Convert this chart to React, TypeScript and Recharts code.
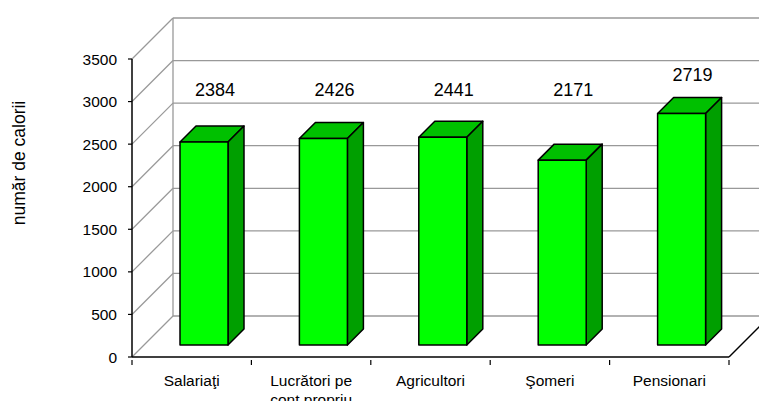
import React from 'react';
import { BarChart, Bar, XAxis, YAxis, CartesianGrid, LabelList, Label, Text } from 'recharts';

const CATEGORIES = ['Salariaţi', 'Lucrători pe cont propriu', 'Agricultori', 'Şomeri', 'Pensionari'];
const CALORII = [2384, 2426, 2441, 2171, 2719];
const Y_TICKS = [0, 500, 1000, 1500, 2000, 2500, 3000, 3500];
const Y_TITLE = 'număr de calorii';

const data = CATEGORIES.map((name, i) => ({ name, calorii: CALORII[i] }));

const FONT = '"Liberation Sans", Arial, sans-serif';
// 3d look: bars sit a bit inside the floor, wall sits at the back
const BAR_IN = 12;
const BAR_DEPTH = 16;
const WALL = 41;

function Bar3D(props: any) {
  const { x, y, width, height } = props;
  const fx = x + BAR_IN;
  const fy = y - BAR_IN;
  const d = BAR_DEPTH;
  return (
    <g stroke="#000" strokeWidth={1.5} strokeLinejoin="round">
      <polygon
        points={`${fx},${fy} ${fx + d},${fy - d} ${fx + width + d},${fy - d} ${fx + width},${fy}`}
        fill="#00c000"
      />
      <polygon
        points={`${fx + width},${fy} ${fx + width + d},${fy - d} ${fx + width + d},${fy + height - d} ${fx + width},${fy + height}`}
        fill="#009f00"
      />
      <rect x={fx} y={fy} width={width} height={height} fill="#00ff00" />
    </g>
  );
}

function ValueLabel(props: any) {
  const { x, y, width, height, value } = props;
  const bottom = y + height - BAR_IN;
  const ppu = height / value;
  // labels float near the 3000 line, higher bars push them up
  const level = Math.max(value + 450, 3000);
  return (
    <text
      x={x + BAR_IN + width / 2 + 11}
      y={bottom - level * ppu + 6}
      textAnchor="middle"
      fontSize={18}
      fontFamily={FONT}
      fill="#000"
    >
      {value}
    </text>
  );
}

function GridLine(props: any) {
  const { x1, y1, x2 } = props;
  return (
    <g stroke="#999" strokeWidth={1.3} fill="none">
      <line x1={x1} y1={y1} x2={x1 + WALL} y2={y1 - WALL} />
      <line x1={x1 + WALL} y1={y1 - WALL} x2={x2 + WALL + 40} y2={y1 - WALL} />
    </g>
  );
}

function WallEdge(props: any) {
  const { x1, y1, y2, index } = props;
  if (index === 0) {
    return <line x1={x1 + WALL} y1={y1 - WALL} x2={x1 + WALL} y2={y2 - WALL} stroke="#999" strokeWidth={1.3} />;
  }
  return <line x1={x1} y1={y2} x2={x1 + WALL} y2={y2 - WALL} stroke="#000" strokeWidth={1.5} />;
}

function CategoryTick(props: any) {
  const { x, y, payload, index } = props;
  const half = payload.offset || 59.7;
  return (
    <g>
      <line x1={x - half} y1={y - 5} x2={x - half} y2={y} stroke="#000" strokeWidth={1.2} />
      {index === CATEGORIES.length - 1 && (
        <line x1={x + half} y1={y - 5} x2={x + half} y2={y} stroke="#000" strokeWidth={1.2} />
      )}
      <Text
        x={x}
        y={y + 10}
        width={100}
        textAnchor="middle"
        verticalAnchor="start"
        lineHeight="1.2em"
        fontSize={15.5}
        fontFamily={FONT}
        fill="#000"
      >
        {payload.value}
      </Text>
    </g>
  );
}

export default function App() {
  return (
    <div style={{ position: 'absolute', left: 0, top: 0, background: '#fff' }}>
      <BarChart
        width={759}
        height={401}
        data={data}
        barSize={48}
        margin={{ top: 59, right: 30, bottom: 0, left: 0 }}
      >
        <CartesianGrid
          horizontal={GridLine}
          vertical={WallEdge}
          verticalCoordinatesGenerator={({ offset }: any) => [offset.left, offset.left + offset.width]}
        />
        <XAxis
          dataKey="name"
          height={44}
          interval={0}
          tickLine={false}
          axisLine={{ stroke: '#000', strokeWidth: 1.5 }}
          tick={<CategoryTick />}
        />
        <YAxis
          width={132}
          domain={[0, 3500]}
          ticks={Y_TICKS}
          interval={0}
          tickSize={4}
          tickMargin={11}
          axisLine={{ stroke: '#000', strokeWidth: 1.5 }}
          tickLine={{ stroke: '#000', strokeWidth: 1.2 }}
          tick={{ fontSize: 15.5, fontFamily: FONT, fill: '#000' }}
        >
          <Label
            content={() => (
              <text
                x={25}
                y={163}
                transform="rotate(-90, 25, 163)"
                textAnchor="middle"
                fontSize={17.5}
                fontFamily={FONT}
                fill="#000"
              >
                {Y_TITLE}
              </text>
            )}
          />
        </YAxis>
        <Bar dataKey="calorii" shape={Bar3D} isAnimationActive={false}>
          <LabelList dataKey="calorii" content={ValueLabel} />
        </Bar>
      </BarChart>
    </div>
  );
}
